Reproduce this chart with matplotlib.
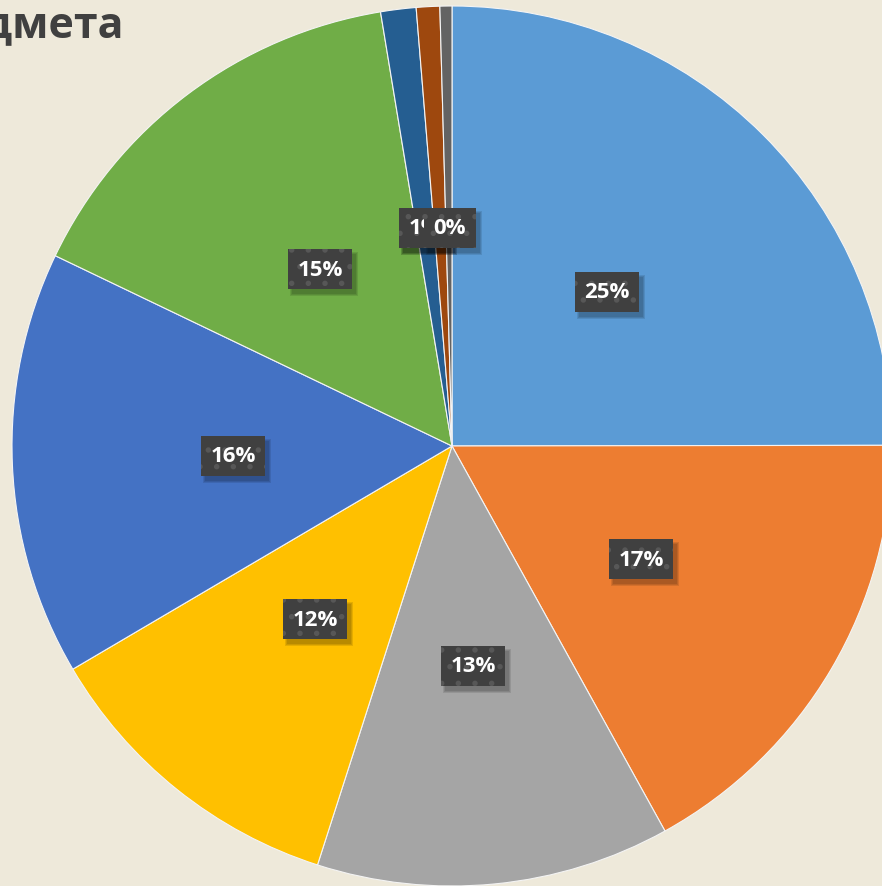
import matplotlib
matplotlib.use('Agg')
import matplotlib.pyplot as plt
from matplotlib.patches import Rectangle

# slice values (percent), clockwise from 12 o'clock
values = [25.0, 17.0, 13.0, 11.6, 15.6, 15.3, 1.3, 0.86, 0.44]
labels = ['25%', '17%', '13%', '12%', '16%', '15%', '1%', '1%', '0%']
colors = ['#5B9BD5', '#ED7D31', '#A5A5A5', '#FFC000', '#4472C4',
          '#70AD47', '#255E91', '#9E480E', '#636363']

plt.rcParams['font.family'] = ['Open Sans', 'DejaVu Sans']
plt.rcParams['hatch.linewidth'] = 1.5

W, H = 882, 887
fig = plt.figure(figsize=(W / 100, H / 100), dpi=100)
fig.patch.set_facecolor('#EEE9DA')
ax = fig.add_axes([0, 0, 1, 1])

cx, cy, r = 452, H - 447, 440
ax.pie(values, colors=colors, startangle=90, counterclock=False,
       center=(cx, cy), radius=r, frame=True,
       wedgeprops=dict(edgecolor='#f4f4f4', linewidth=0.8))
ax.set_xlim(0, W)
ax.set_ylim(0, H)
ax.set_aspect('equal')
ax.axis('off')

# label box positions (pixel coords in image, y from top)
label_pos = [(607, 293), (641, 560), (473, 667), (315, 620), (233, 457),
             (320, 270), (425, 229), (425, 229), (450, 229)]

texts = []
for i, ((px, py), txt) in enumerate(zip(label_pos, labels)):
    t = ax.text(px, H - py, txt, ha='center', va='center', fontsize=16,
                fontweight='bold', color='white', zorder=10 + 2 * i,
                bbox=dict(boxstyle='square,pad=0.42', facecolor='#404040',
                          edgecolor='#575757', linewidth=0, hatch='.'))
    texts.append(t)

# soft drop shadows under the label boxes
fig.canvas.draw()
for i, t in enumerate(texts):
    bb = t.get_bbox_patch().get_window_extent()
    for k, a in enumerate([0.10, 0.10, 0.10]):
        grow = 2 - k
        ax.add_patch(Rectangle((bb.x0 + 4 - grow, bb.y0 - 5 - grow),
                               bb.width + 2 * grow, bb.height + 2 * grow,
                               facecolor='black', edgecolor='none', alpha=a,
                               zorder=9 + 2 * i))

fig.text(124 / W, 1 - 27 / H, 'предмета', ha='right', va='center',
         fontsize=31, fontweight='bold', color='#404040')

fig.savefig('out.png', dpi=100, facecolor=fig.get_facecolor())
